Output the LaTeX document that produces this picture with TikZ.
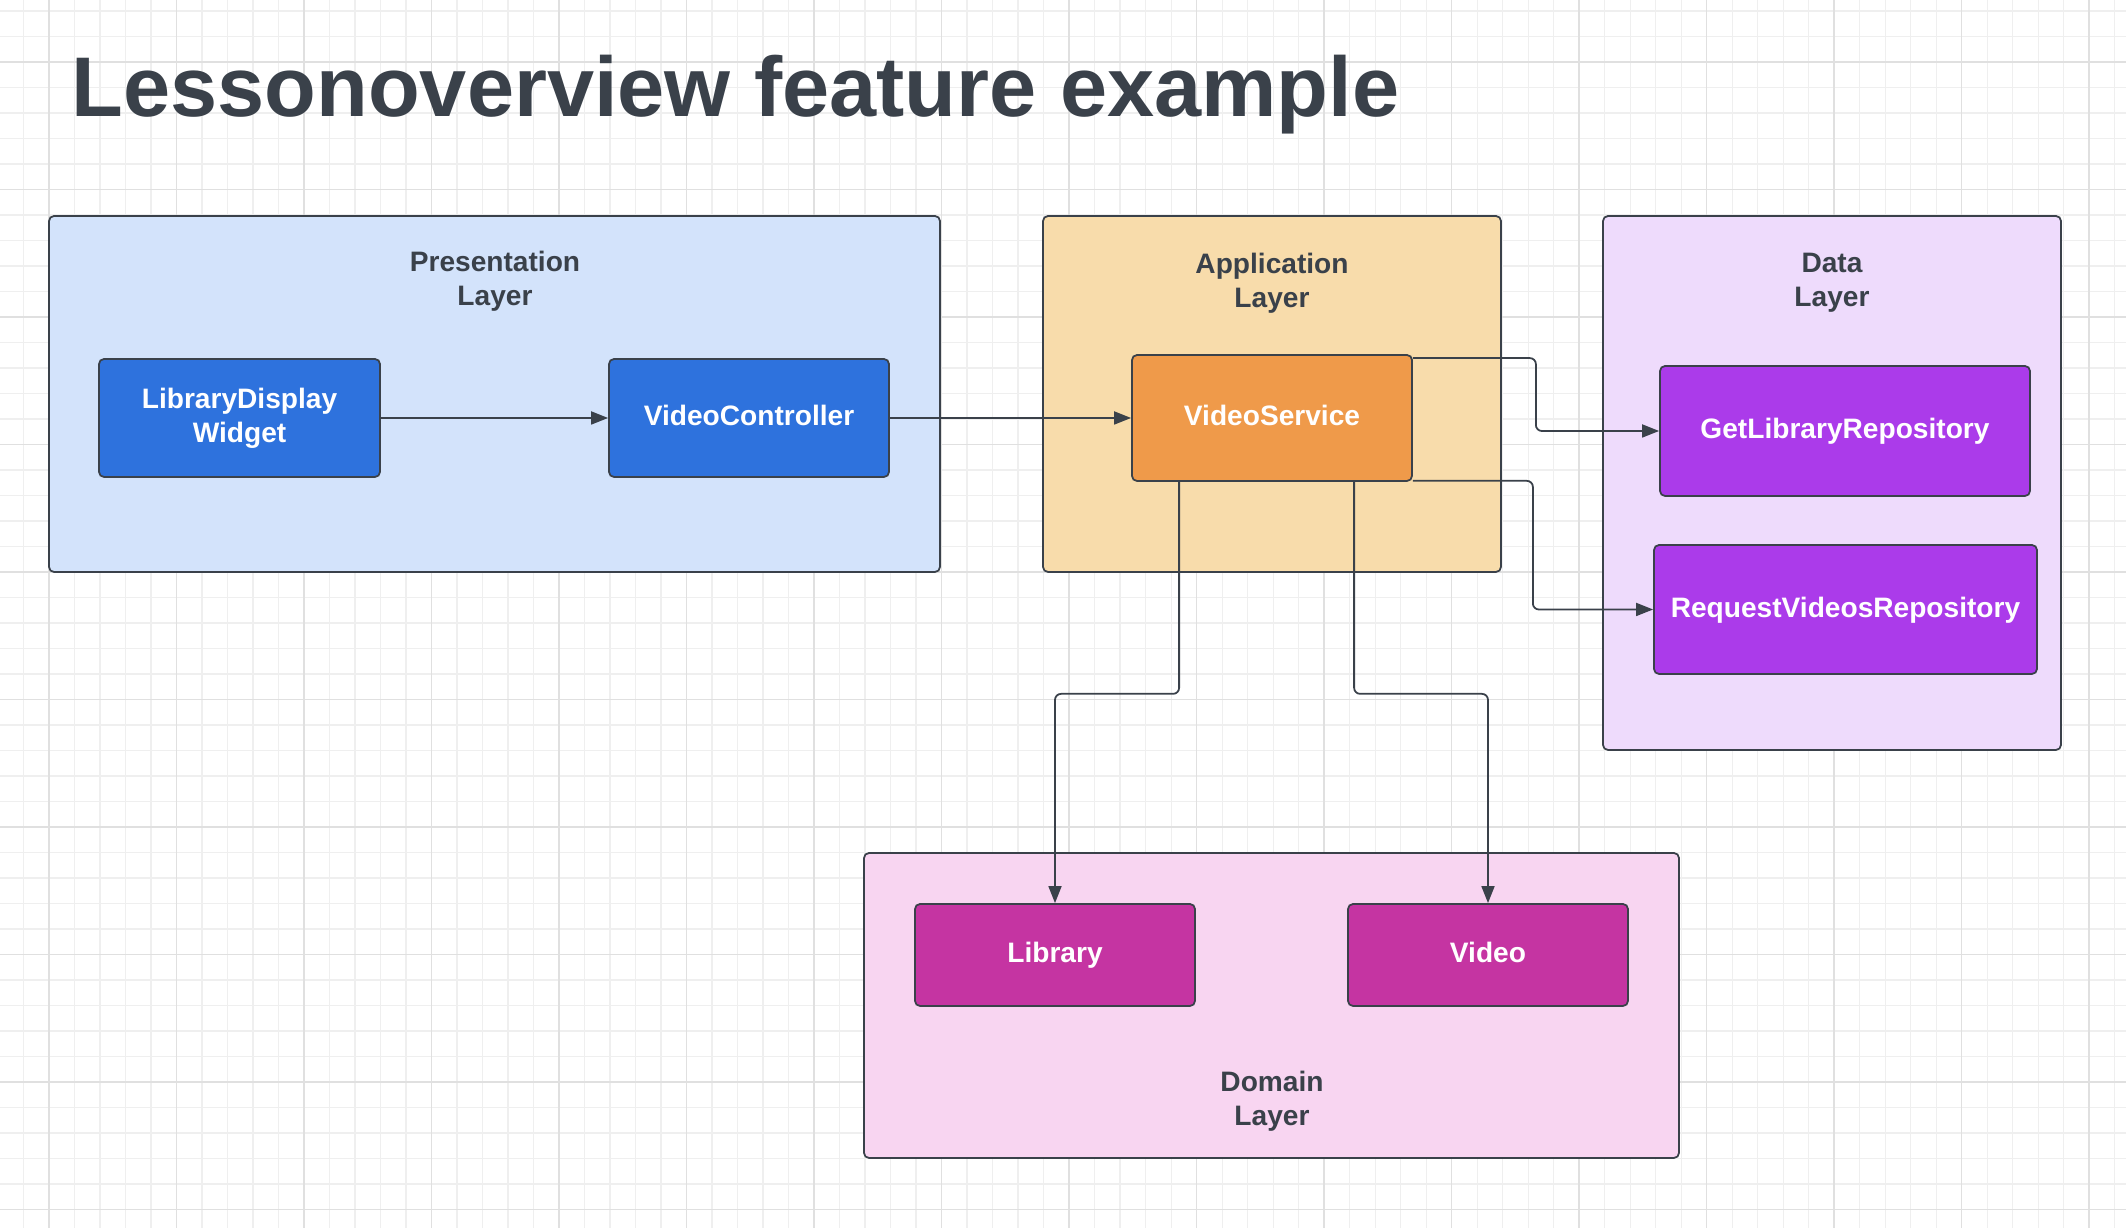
\documentclass[tikz,border=0pt]{standalone}
\usepackage{fontspec}
\setmainfont{Liberation Sans}
\usetikzlibrary{arrows.meta}

\definecolor{ink}{HTML}{3A414A}
\definecolor{gridminor}{HTML}{EFEFEF}
\definecolor{gridmajor}{HTML}{E0E0E0}
\definecolor{presfill}{HTML}{D3E3FB}
\definecolor{appfill}{HTML}{F8DCAB}
\definecolor{datafill}{HTML}{EEDBFC}
\definecolor{domainfill}{HTML}{F8D5F1}
\definecolor{compblue}{HTML}{2E72DD}
\definecolor{comporange}{HTML}{EF9A4A}
\definecolor{comppurple}{HTML}{AB3BEA}
\definecolor{compmagenta}{HTML}{C534A2}

\begin{document}
\begin{tikzpicture}[
  layerbox/.style={draw=ink, line width=0.5pt, rounded corners=0.05cm, inner sep=0pt},
  compbox/.style={draw=ink, line width=0.5pt, rounded corners=0.05cm, inner sep=0pt,
    text=white, align=center, font=\bfseries\fontsize{8}{9.6}\selectfont},
  oneline/.style={text height=0.75em, text depth=0.3em},
  layerlabel/.style={text=ink, align=center, font=\bfseries\fontsize{8}{9.6}\selectfont},
  link/.style={draw=ink, line width=0.5pt, rounded corners=0.06cm,
    -{Triangle[length=0.17cm,width=0.13cm]}}
]
\useasboundingbox (0,0) rectangle (21.26,-12.28);
\fill[white] (0,0) rectangle (21.26,-12.28);

% background grid
\begin{scope}
  \clip (0,0) rectangle (21.26,-12.28);
  \draw[gridminor, line width=0.3pt, step=0.255cm, shift={(0.49,-0.62)}] (-1.5,-13) grid (21.5,1.5);
  \draw[gridmajor, line width=0.3pt, step=1.275cm, shift={(0.49,-0.62)}] (-1.5,-13) grid (21.5,1.5);
\end{scope}

\node[text=ink, anchor=base west, inner sep=0pt, font=\bfseries\fontsize{24.1}{29}\selectfont]
  (title) at (0.71,-1.17) {Lessonoverview feature example};

% layers
\node[layerbox, fill=presfill, minimum width=8.91cm, minimum height=3.56cm] (pres) at (4.945,-3.94) {};
\node[layerbox, fill=appfill, minimum width=4.58cm, minimum height=3.56cm] (app) at (12.72,-3.94) {};
\node[layerbox, fill=datafill, minimum width=4.58cm, minimum height=5.34cm] (data) at (18.32,-4.83) {};
\node[layerbox, fill=domainfill, minimum width=8.15cm, minimum height=3.05cm] (domain) at (12.715,-10.055) {};

\node[layerlabel] (preslabel) at (4.95,-2.81) {Presentation\\Layer};
\node[layerlabel] (applabel) at (12.72,-2.83) {Application\\Layer};
\node[layerlabel] (datalabel) at (18.32,-2.83) {Data\\Layer};
\node[layerlabel] (domainlabel) at (12.72,-11.01) {Domain\\Layer};

% components
\node[compbox, fill=compblue, minimum width=2.81cm, minimum height=1.18cm] (libwidget) at (2.395,-4.18) {LibraryDisplay\\Widget};
\node[compbox, oneline, fill=compblue, minimum width=2.80cm, minimum height=1.18cm] (vidctrl) at (7.49,-4.18) {VideoController};
\node[compbox, oneline, fill=comporange, minimum width=2.80cm, minimum height=1.26cm] (vidsvc) at (12.72,-4.18) {VideoService};
\node[compbox, oneline, fill=comppurple, minimum width=3.70cm, minimum height=1.30cm] (getlib) at (18.45,-4.31) {GetLibraryRepository};
\node[compbox, oneline, fill=comppurple, minimum width=3.83cm, minimum height=1.29cm] (reqvid) at (18.455,-6.095) {RequestVideosRepository};
\node[compbox, oneline, fill=compmagenta, minimum width=2.80cm, minimum height=1.02cm] (library) at (10.55,-9.55) {Library};
\node[compbox, oneline, fill=compmagenta, minimum width=2.80cm, minimum height=1.02cm] (video) at (14.88,-9.55) {Video};

% connectors
\draw[link] (libwidget) -- (vidctrl);
\draw[link] (vidctrl) -- (vidsvc);
\draw[link] ([yshift=-0.04cm]vidsvc.north east) -- ++(1.23,0) |- (getlib.west);
\draw[link] ([yshift=0.01cm]vidsvc.south east) -- ++(1.20,0) |- (reqvid.west);
\draw[link] ([xshift=0.48cm]vidsvc.south west) -- ++(0,-2.12) -| (library.north);
\draw[link] ([xshift=2.23cm]vidsvc.south west) -- ++(0,-2.12) -| (video.north);
\end{tikzpicture}
\end{document}
